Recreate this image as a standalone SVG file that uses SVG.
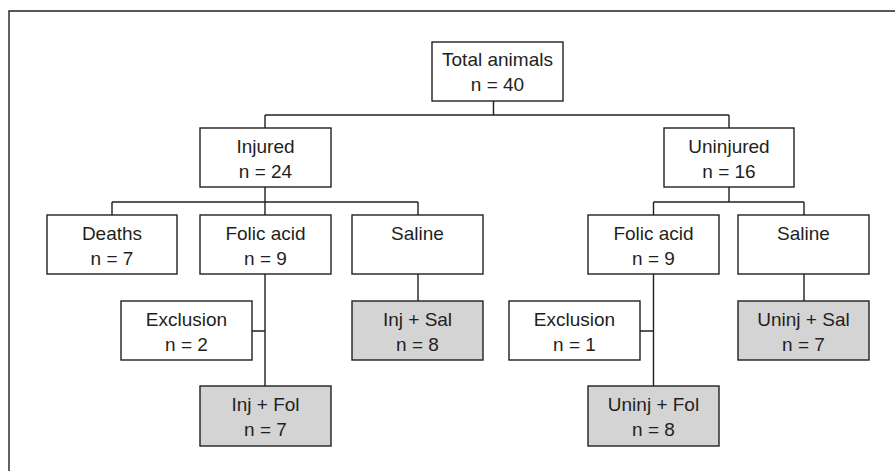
<svg xmlns="http://www.w3.org/2000/svg" width="895" height="471" viewBox="0 0 895 471">
<style>
.box{fill:#fff;stroke:#231f20;stroke-width:1.4}
.gray{fill:#d4d4d5}
.conn{fill:none;stroke:#231f20;stroke-width:1.4}
text{font-family:"Liberation Sans",Arial,sans-serif;font-size:19px;fill:#231f20;text-anchor:middle}
</style>
<rect width="895" height="471" fill="#fff"/>
<path class="conn" d="M9,471 V11 H895"/>
<g id="connectors">
<path class="conn" d="M493.5,101 V115 M265,115 H729 M265,115 V128 M729,115 V128"/>
<path class="conn" d="M265,187 V202 M112,202 H418 M112,202 V215 M265,202 V215 M418,202 V215"/>
<path class="conn" d="M729,187 V202 M653.5,202 H804 M653.5,202 V215 M804,202 V215"/>
<path class="conn" d="M265,274 V386 M252,331 H265 M418,274 V301"/>
<path class="conn" d="M653.5,274 V386 M640,331 H653.5 M804,274 V301"/>
</g>
<g id="total"><rect class="box" x="432" y="42" width="131" height="59"/><text x="497.5" y="65.5">Total animals</text><text x="497.5" y="91">n = 40</text></g>
<g id="injured"><rect class="box" x="200" y="128" width="131" height="59"/><text x="265.5" y="152.5">Injured</text><text x="265.5" y="178">n = 24</text></g>
<g id="uninjured"><rect class="box" x="664" y="128" width="130" height="59"/><text x="729" y="152.5">Uninjured</text><text x="729" y="178">n = 16</text></g>
<g id="deaths"><rect class="box" x="47" y="215" width="130" height="59"/><text x="112" y="239.5">Deaths</text><text x="112" y="265">n = 7</text></g>
<g id="folic-inj"><rect class="box" x="200" y="215" width="131" height="59"/><text x="265.5" y="239.5">Folic acid</text><text x="265.5" y="265">n = 9</text></g>
<g id="saline-inj"><rect class="box" x="352" y="215" width="131" height="59"/><text x="417.5" y="239.5">Saline</text></g>
<g id="folic-uninj"><rect class="box" x="588" y="215" width="131" height="59"/><text x="653.5" y="239.5">Folic acid</text><text x="653.5" y="265">n = 9</text></g>
<g id="saline-uninj"><rect class="box" x="738" y="215" width="131" height="59"/><text x="803.5" y="239.5">Saline</text></g>
<g id="excl-inj"><rect class="box" x="121" y="301" width="131" height="59"/><text x="186.5" y="325.5">Exclusion</text><text x="186.5" y="351">n = 2</text></g>
<g id="inj-sal"><rect class="box gray" x="352" y="301" width="131" height="59"/><text x="417.5" y="325.5">Inj + Sal</text><text x="417.5" y="351">n = 8</text></g>
<g id="excl-uninj"><rect class="box" x="509" y="301" width="131" height="59"/><text x="574.5" y="325.5">Exclusion</text><text x="574.5" y="351">n = 1</text></g>
<g id="uninj-sal"><rect class="box gray" x="738" y="301" width="131" height="59"/><text x="803.5" y="325.5">Uninj + Sal</text><text x="803.5" y="351">n = 7</text></g>
<g id="inj-fol"><rect class="box gray" x="200" y="386" width="131" height="60"/><text x="265.5" y="410.5">Inj + Fol</text><text x="265.5" y="436">n = 7</text></g>
<g id="uninj-fol"><rect class="box gray" x="588" y="386" width="131" height="60"/><text x="653.5" y="410.5">Uninj + Fol</text><text x="653.5" y="436">n = 8</text></g>
</svg>
